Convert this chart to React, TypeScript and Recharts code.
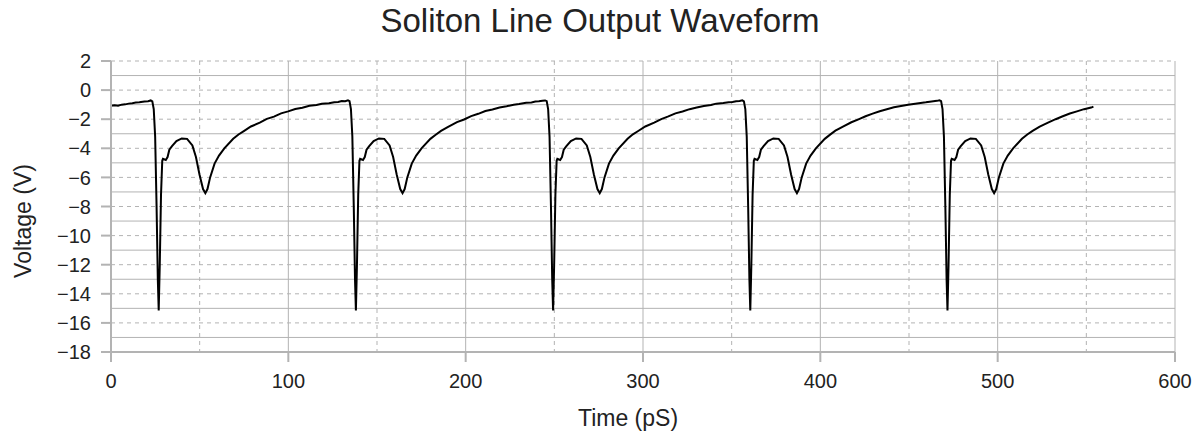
import { LineChart, Line, XAxis, YAxis, CartesianGrid } from 'recharts';

// time axis (pS)
const timePs = [
  0, 2, 4, 6, 8, 10, 12, 14, 16,
  // pulse 1
  16.9, 18.9, 20.9, 22.4, 23.3, 24.1, 24.9, 25.7, 26.4, 26.9, 27.5, 28.2, 28.9, 29.3, 30.9, 31.9, 32.9, 34.4,
  36.9, 39.9, 42.9, 45.9, 47.9, 49.9, 51.9, 53.2, 54.4, 55.9, 58.4, 60.9, 63.9, 68.9, 71.9, 74.9, 78.9,
  83.9, 87.9, 91.9, 95.9, 99.9, 103.9, 107.9, 111.9, 115.9, 118.9, 122.9, 125.9,
  // pulse 2
  128.1, 130.1, 132.1, 133.6, 134.5, 135.3, 136.1, 136.9, 137.6, 138.1, 138.7, 139.4, 140.1, 140.5, 142.1, 143.1, 144.1, 145.6,
  148.1, 151.1, 154.1, 157.1, 159.1, 161.1, 163.1, 164.4, 165.6, 167.1, 169.6, 172.1, 175.1, 180.1, 183.1, 186.1, 190.1,
  195.1, 199.1, 203.1, 207.1, 211.1, 215.1, 219.1, 223.1, 227.1, 230.1, 234.1, 237.1,
  // pulse 3
  239.3, 241.3, 243.3, 244.8, 245.7, 246.5, 247.3, 248.1, 248.8, 249.3, 249.9, 250.6, 251.3, 251.7, 253.3, 254.3, 255.3, 256.8,
  259.3, 262.3, 265.3, 268.3, 270.3, 272.3, 274.3, 275.6, 276.8, 278.3, 280.8, 283.3, 286.3, 291.3, 294.3, 297.3, 301.3,
  306.3, 310.3, 314.3, 318.3, 322.3, 326.3, 330.3, 334.3, 338.3, 341.3, 345.3, 348.3,
  // pulse 4
  350.5, 352.5, 354.5, 356.0, 356.9, 357.7, 358.5, 359.3, 360.0, 360.5, 361.1, 361.8, 362.5, 362.9, 364.5, 365.5, 366.5, 368.0,
  370.5, 373.5, 376.5, 379.5, 381.5, 383.5, 385.5, 386.8, 388.0, 389.5, 392.0, 394.5, 397.5, 402.5, 405.5, 408.5, 412.5,
  417.5, 421.5, 425.5, 429.5, 433.5, 437.5, 441.5, 445.5, 449.5, 452.5, 456.5, 459.5,
  // pulse 5
  461.7, 463.7, 465.7, 467.2, 468.1, 468.9, 469.7, 470.5, 471.2, 471.7, 472.3, 473.0, 473.7, 474.1, 475.7, 476.7, 477.7, 479.2,
  481.7, 484.7, 487.7, 490.7, 492.7, 494.7, 496.7, 498.0, 499.2, 500.7, 503.2, 505.7, 508.7, 513.7, 516.7, 519.7, 523.7,
  528.7, 532.7, 536.7, 540.7, 544.7, 548.7, 552.7, 554.0,
];

// voltage (V), same order as timePs
const voltageV = [
  -1.08, -1.05, -1.07, -1.0, -0.98, -0.93, -0.9, -0.86, -0.84,
  -0.82, -0.78, -0.76, -0.71, -0.77, -1.3, -3.2, -8.0, -13.0, -15.15, -12.0, -7.2, -4.85, -4.72, -4.8, -4.6, -4.1, -3.85,
  -3.5, -3.32, -3.35, -3.8, -4.6, -5.8, -6.8, -7.08, -6.8, -6.0, -5.05, -4.5, -4.0, -3.35, -3.05, -2.82, -2.5,
  -2.24, -1.98, -1.82, -1.6, -1.46, -1.3, -1.21, -1.08, -1.03, -0.94, -0.9, -0.83,
  -0.81, -0.75, -0.76, -0.7, -0.76, -1.3, -3.2, -8.0, -13.0, -15.15, -12.0, -7.2, -4.85, -4.72, -4.8, -4.6, -4.1, -3.85,
  -3.5, -3.32, -3.35, -3.8, -4.6, -5.8, -6.8, -7.08, -6.8, -6.0, -5.05, -4.5, -4.0, -3.35, -3.07, -2.8, -2.53,
  -2.2, -2.02, -1.79, -1.63, -1.44, -1.33, -1.19, -1.11, -1.0, -0.96, -0.87, -0.85,
  -0.79, -0.77, -0.73, -0.71, -0.76, -1.3, -3.2, -8.0, -13.0, -15.15, -12.0, -7.2, -4.85, -4.72, -4.8, -4.6, -4.1, -3.85,
  -3.5, -3.32, -3.35, -3.8, -4.6, -5.8, -6.8, -7.08, -6.8, -6.0, -5.05, -4.5, -4.0, -3.35, -3.04, -2.81, -2.5,
  -2.23, -1.99, -1.81, -1.6, -1.47, -1.31, -1.2, -1.09, -1.03, -0.93, -0.89, -0.83,
  -0.81, -0.76, -0.75, -0.7, -0.77, -1.3, -3.2, -8.0, -13.0, -15.15, -12.0, -7.2, -4.85, -4.72, -4.8, -4.6, -4.1, -3.85,
  -3.5, -3.32, -3.35, -3.8, -4.6, -5.8, -6.8, -7.08, -6.8, -6.0, -5.05, -4.5, -4.0, -3.35, -3.06, -2.79, -2.52,
  -2.21, -2.01, -1.8, -1.62, -1.45, -1.32, -1.18, -1.1, -1.01, -0.95, -0.88, -0.84,
  -0.8, -0.77, -0.74, -0.7, -0.76, -1.3, -3.2, -8.0, -13.0, -15.15, -12.0, -7.2, -4.85, -4.72, -4.8, -4.6, -4.1, -3.85,
  -3.5, -3.32, -3.35, -3.8, -4.6, -5.8, -6.8, -7.08, -6.8, -6.0, -5.05, -4.5, -4.0, -3.35, -3.05, -2.8, -2.51,
  -2.22, -2.0, -1.8, -1.61, -1.46, -1.31, -1.2, -1.13,
];

const xTicks = [0, 100, 200, 300, 400, 500, 600];
const xMinorLines = [50, 150, 250, 350, 450, 550];
const yTicks = [2, 0, -2, -4, -6, -8, -10, -12, -14, -16, -18];
const ySolidLines = [1, -1, -3, -5, -7, -9, -11, -13, -15, -17];

const data = timePs.map((t, i) => ({ t, v: voltageV[i] }));

const font = '"Liberation Sans", Arial, sans-serif';
const gridColor = '#b3b3b3';
const textColor = '#222';

// the original uses a real minus sign on the voltage ticks
const fmtMinus = (v: number) => String(v).replace('-', '\u2212');

export default function App() {
  return (
    <div style={{ position: 'absolute', left: 0, top: 0, width: 1199, height: 435, fontFamily: font }}>
      <LineChart width={1199} height={435} data={data} margin={{ top: 61, right: 24, bottom: 33, left: 31 }}>
        {/* solid major lines */}
        <CartesianGrid stroke={gridColor} horizontalValues={ySolidLines} verticalValues={xTicks} />
        {/* dashed lines on the labelled values */}
        <CartesianGrid stroke={gridColor} strokeDasharray="4 4" horizontalValues={yTicks.slice(0, -1)} verticalValues={xMinorLines} />
        <XAxis
          dataKey="t"
          type="number"
          domain={[0, 600]}
          ticks={xTicks}
          height={50}
          stroke={gridColor}
          strokeWidth={2}
          tickSize={10}
          tickMargin={12}
          tick={{ fill: textColor, fontSize: 20, fontFamily: font }}
        />
        <YAxis
          type="number"
          domain={[-18, 2]}
          ticks={yTicks}
          width={80}
          stroke={gridColor}
          strokeWidth={2}
          tickSize={10}
          tickMargin={10}
          interval={0}
          tickFormatter={fmtMinus}
          tick={{ fill: textColor, fontSize: 20, fontFamily: font }}
        />
        <Line
          type="linear"
          dataKey="v"
          stroke="#000"
          strokeWidth={2}
          dot={false}
          isAnimationActive={false}
        />
      </LineChart>
      <svg width={1199} height={435} style={{ position: 'absolute', left: 0, top: 0, pointerEvents: 'none' }}>
        <text x={600} y={32} textAnchor="middle" fontSize={33} fill={textColor} fontFamily={font}>
          Soliton Line Output Waveform
        </text>
        <text x={628} y={426} textAnchor="middle" fontSize={23} fill={textColor} fontFamily={font}>
          Time (pS)
        </text>
        <text transform="translate(31,221) rotate(-90)" textAnchor="middle" fontSize={23} fill={textColor} fontFamily={font}>
          Voltage (V)
        </text>
      </svg>
    </div>
  );
}
